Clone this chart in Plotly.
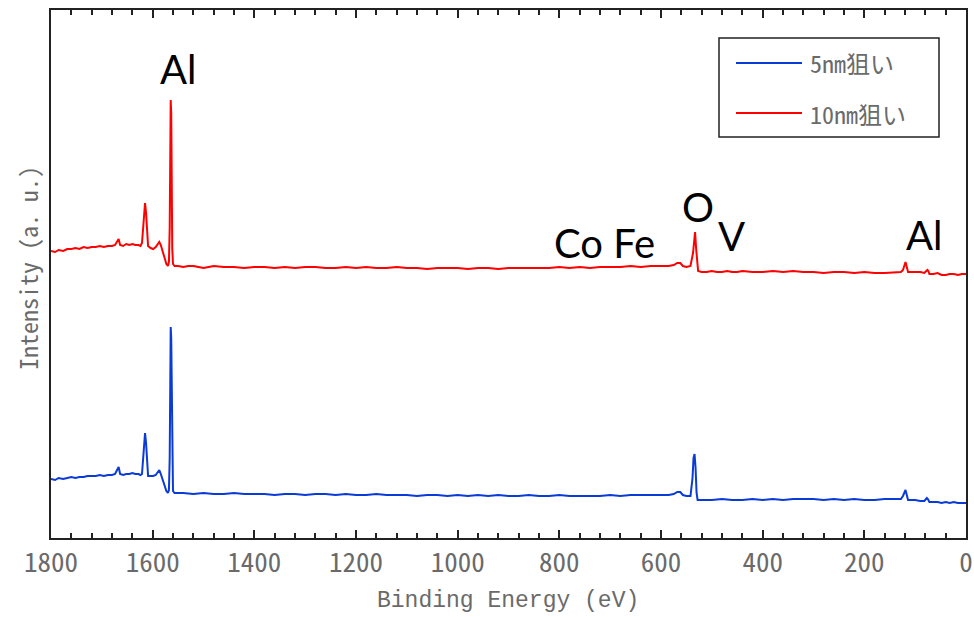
import plotly.graph_objects as go

# XPS survey spectra: binding energy (eV) and intensity (arbitrary units)
energy_red = [1800, 1792, 1785, 1776, 1768, 1760, 1752, 1744, 1736, 1728, 1720, 1712, 1704, 1696, 1688, 1680,
              1674, 1670, 1667, 1664, 1658, 1652, 1646, 1640, 1634, 1628, 1624, 1621, 1619, 1617, 1615, 1613,
              1611, 1609, 1604, 1599, 1594, 1590, 1587, 1584, 1580, 1576, 1573, 1570, 1568, 1566.5, 1565.5,
              1564.5, 1563.5, 1562.5, 1561.5, 1560, 1557, 1550, 1540, 1530, 1520, 1510, 1500, 1490, 1480,
              1460, 1440, 1420, 1400, 1380, 1360, 1340, 1320, 1300, 1280, 1260, 1240, 1220, 1200, 1180,
              1160, 1140, 1120, 1100, 1080, 1060, 1040, 1020, 1000, 980, 960, 940, 920, 900, 880, 860, 840,
              820, 800, 780, 760, 740, 720, 700, 680, 660, 640, 620, 600, 585, 575, 568, 562, 557, 550, 542,
              537, 535, 533, 531, 529, 527, 520, 510, 500, 490, 480, 470, 460, 450, 440, 420, 400, 380, 360,
              340, 320, 300, 280, 260, 240, 220, 200, 180, 160, 140, 128, 124, 121, 119, 117, 114, 108, 100,
              90, 82, 76, 74, 72, 64, 56, 48, 40, 32, 24, 16, 8, 0]
intensity_red = [287, 286, 288, 287, 289, 289, 290, 289, 291, 290, 291, 291, 292, 291, 292, 292,
                 293, 297, 299, 293, 292, 294, 293, 294, 293, 293, 292, 295, 310, 330, 335, 325,
                 300, 292, 290, 289, 291, 294, 296, 293, 286, 279, 274, 272, 276, 310, 400,
                 438, 425, 350, 290, 274, 272, 272, 271, 272, 272, 271, 270, 271, 272,
                 271, 271, 270, 271, 271, 270, 271, 270, 271, 271, 270, 270, 271, 270, 271,
                 270, 270, 271, 270, 270, 269, 270, 270, 270, 269, 270, 270, 269, 270, 270, 270, 270,
                 270, 271, 270, 271, 270, 271, 271, 271, 272, 271, 272, 272, 272, 273, 275, 275, 272, 271, 272,
                 285, 300, 306, 290, 272, 267, 266, 266, 267, 266, 266, 267, 266, 266, 267, 266, 266, 267, 266,
                 267, 266, 266, 265, 266, 266, 265, 266, 265, 265, 266, 266, 268, 274, 276, 272, 266, 266, 266,
                 266, 265, 268, 267, 264, 264, 265, 263, 263, 264, 264, 263, 264, 264]

energy_blue = [1800, 1792, 1785, 1776, 1768, 1760, 1752, 1744, 1736, 1728, 1720, 1712, 1704, 1696, 1688, 1680,
               1674, 1670, 1667, 1664, 1658, 1652, 1646, 1640, 1634, 1628, 1624, 1621, 1619, 1617, 1615, 1613,
               1611, 1609, 1604, 1599, 1594, 1590, 1587, 1584, 1580, 1576, 1573, 1570, 1568, 1566.5, 1565.5,
               1564.5, 1563.5, 1562.5, 1561.5, 1560, 1557, 1550, 1540, 1520, 1500, 1480, 1460, 1440, 1420,
               1400, 1380, 1360, 1340, 1320, 1300, 1280, 1260, 1240, 1220, 1200, 1180, 1160, 1140, 1120,
               1100, 1080, 1060, 1040, 1020, 1000, 980, 960, 940, 920, 900, 880, 860, 840, 820, 800, 780,
               760, 740, 720, 700, 680, 660, 640, 620, 600, 585, 575, 568, 562, 557, 550, 542, 538, 536,
               534, 532, 530, 528, 520, 500, 480, 460, 440, 420, 400, 380, 360, 340, 320, 300, 280, 260,
               240, 220, 200, 180, 160, 140, 128, 124, 121, 119, 117, 114, 108, 100, 90, 82, 77, 75, 72,
               64, 56, 48, 40, 32, 24, 16, 8, 0]
intensity_blue = [59, 58, 60, 59, 60, 61, 60, 61, 61, 62, 62, 62, 63, 62, 63, 63,
                  64, 69, 71, 64, 63, 64, 64, 65, 64, 64, 63, 64, 80, 100, 105, 95,
                  70, 62, 62, 62, 63, 66, 68, 64, 58, 51, 47, 45, 48, 80, 170,
                  211, 200, 130, 60, 47, 45, 45, 45, 44, 45, 44, 44, 45, 44,
                  44, 44, 43, 44, 44, 43, 44, 44, 43, 44, 43, 43, 44, 43, 43,
                  43, 42, 43, 43, 42, 43, 42, 43, 42, 43, 42, 42, 43, 42, 42, 43, 42,
                  42, 42, 42, 43, 42, 43, 43, 43, 43, 43, 44, 46, 46, 43, 42, 42, 60, 80,
                  84, 70, 45, 38, 38, 38, 39, 38, 38, 39, 38, 39, 38, 39, 39, 39, 38, 39,
                  38, 39, 38, 38, 39, 39, 39, 42, 47, 48, 44, 38, 38, 38, 37, 37, 40, 39, 36,
                  36, 36, 35, 36, 35, 36, 35, 35, 35]

series_names = ["5nm狙い", "10nm狙い"]
series_colors = ["#0b3bd6", "#ff0000"]

x_ticks = [1800, 1600, 1400, 1200, 1000, 800, 600, 400, 200, 0]

peak_labels = ["Al", "Co Fe", "O", "V", "Al"]
peak_label_x = [1550, 712, 527, 462, 83]
peak_label_y = [469, 295, 331, 302, 303]

W, H = 974, 617
ML, MR, MT, MB = 51, 8, 10, 79
PW, PH = W - ML - MR, H - MT - MB

GRAY = "#6a6a6a"
MONO = "Noto Sans Mono CJK JP, Liberation Mono, DejaVu Sans Mono, monospace"
MONO_LATIN = "Liberation Mono, DejaVu Sans Mono, monospace"


def px(x, y):
    """Pixel position inside the figure -> paper coordinates."""
    return (x - ML) / PW, (H - MB - y) / PH


fig = go.Figure()
fig.add_trace(go.Scatter(x=energy_blue, y=intensity_blue, mode="lines", name=series_names[0],
                         line=dict(color=series_colors[0], width=2), showlegend=False))
fig.add_trace(go.Scatter(x=energy_red, y=intensity_red, mode="lines", name=series_names[1],
                         line=dict(color=series_colors[1], width=2), showlegend=False))

for text, x, y in zip(peak_labels, peak_label_x, peak_label_y):
    fig.add_annotation(x=x, y=y, xref="x", yref="y", text=text, showarrow=False,
                       font=dict(family="Lato, Open Sans, sans-serif", size=40, color="black"))

# legend box
bx0, by0 = px(719, 137)
bx1, by1 = px(939, 38)
fig.add_shape(type="rect", xref="paper", yref="paper", x0=bx0, y0=by0, x1=bx1, y1=by1,
              line=dict(color="#222", width=1.5), fillcolor="white")
for name, color, ly in zip(series_names, series_colors, [63, 113]):
    lx0, ly0 = px(736, ly)
    lx1, _ = px(802, ly)
    fig.add_shape(type="line", xref="paper", yref="paper", x0=lx0, y0=ly0, x1=lx1, y1=ly0,
                  line=dict(color=color, width=2))
    tx, _ = px(808, ly)
    fig.add_annotation(x=tx, y=ly0, xref="paper", yref="paper", text=name, showarrow=False,
                       xanchor="left", yanchor="middle", font=dict(family=MONO, size=24, color=GRAY))

# axis titles
tx, ty = px(508, 601)
fig.add_annotation(x=tx, y=ty, xref="paper", yref="paper", text="Binding Energy (eV)", showarrow=False,
                   xanchor="center", yanchor="middle", font=dict(family=MONO_LATIN, size=23, color=GRAY))
tx, ty = px(27, 268)
fig.add_annotation(x=tx, y=ty, xref="paper", yref="paper", text="Intensity (a. u.)", showarrow=False,
                   textangle=-90, xanchor="center", yanchor="middle",
                   font=dict(family=MONO, size=24, color=GRAY))

fig.update_xaxes(range=[1800, 0], tickmode="array", tickvals=x_ticks, ticktext=[str(v) for v in x_ticks],
                 ticks="inside", ticklen=8, tickwidth=1.5, tickcolor="#222",
                 minor=dict(ticks="inside", dtick=40, ticklen=5, tickwidth=1.5, tickcolor="#222"),
                 showline=True, linecolor="#222", linewidth=2, mirror="allticks",
                 showgrid=False, zeroline=False, automargin=False, ticklabelstandoff=0,
                 tickfont=dict(family=MONO, size=27, color=GRAY))
fig.update_yaxes(range=[0, 528], showticklabels=False, ticks="", showline=True, linecolor="#222",
                 linewidth=2, mirror=True, showgrid=False, zeroline=False, automargin=False)

fig.update_layout(width=W, height=H, margin=dict(l=ML, r=MR, t=MT, b=MB, autoexpand=False),
                  paper_bgcolor="white", plot_bgcolor="white", showlegend=False)

fig.write_html("out.html")
